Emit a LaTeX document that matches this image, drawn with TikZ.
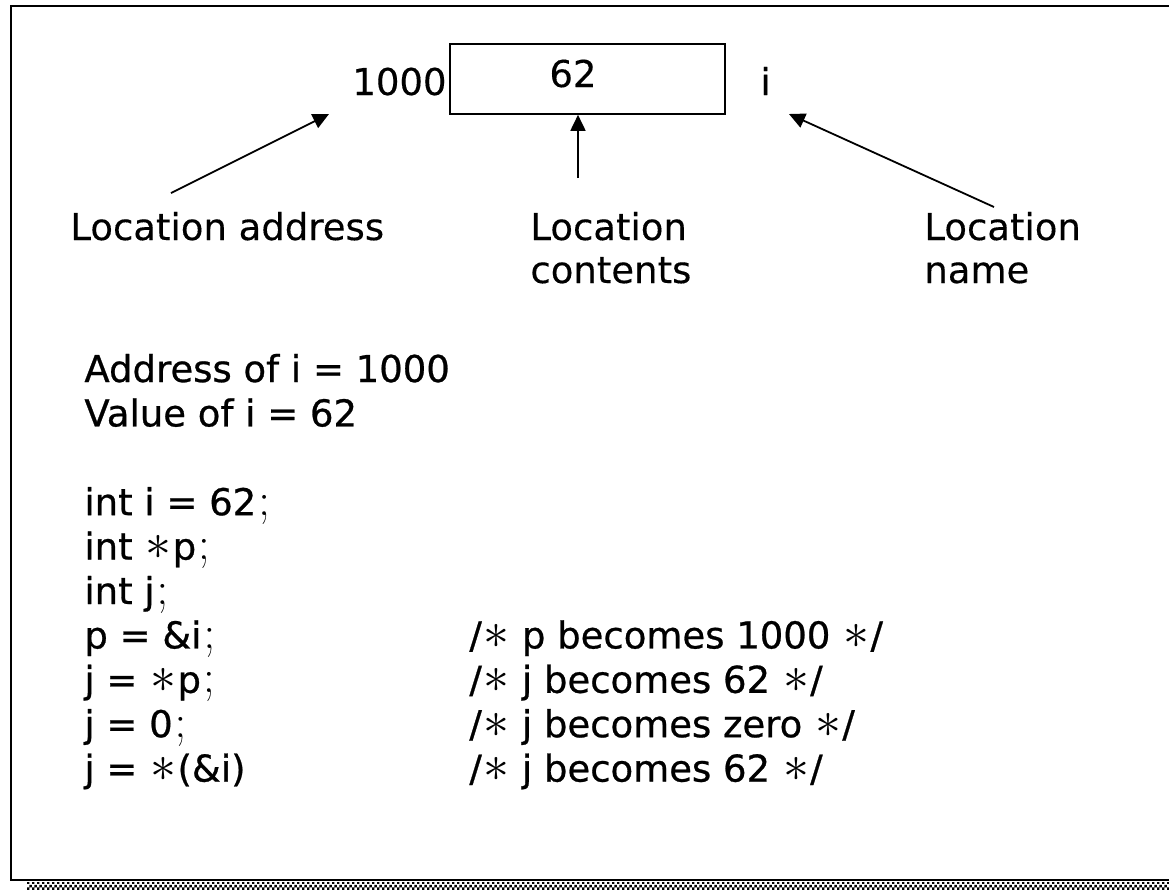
\documentclass[tikz,border=0pt]{standalone}
\usepackage{fontspec}
\setmainfont{DejaVu Sans}[FakeBold=0.3]
\newfontfamily\codefont{DejaVu Sans}[FakeBold=0.7]
\usetikzlibrary{arrows.meta,patterns}
\pgfdeclarepatternformonly{shadowchecks}{\pgfpointorigin}{\pgfqpoint{2.7pt}{2.7pt}}{\pgfqpoint{2.7pt}{2.7pt}}{%
  \pgfpathrectangle{\pgfpointorigin}{\pgfqpoint{1.35pt}{1.35pt}}%
  \pgfpathrectangle{\pgfqpoint{1.35pt}{1.35pt}}{\pgfqpoint{1.35pt}{1.35pt}}%
  \pgfusepath{fill}}
\newcommand{\cstar}{\kern0.6pt\scalebox{1.5}{$\ast$}\kern0.6pt}
\newcommand{\csemi}{\kern1pt\scalebox{1.35}{$;$}}
\tikzset{
  ptr/.style={-{Triangle[length=8pt,width=7.5pt]},line width=0.9pt},
  txt/.style={inner sep=0pt,anchor=base west,font=\fontsize{18.5}{21.5}\selectfont},
  codetxt/.style={txt,font=\fontsize{18.5}{21.5}\selectfont\codefont},
}
\begin{document}
\begin{tikzpicture}[x=0.5pt,y=-0.5pt]
      \useasboundingbox (0,0) rectangle (1169,890);
      % frame and its shadow
      \fill[pattern=shadowchecks] (27,882) rectangle (1169,890);
      \draw[line width=1.1pt] (1180,6) -- (11,6) -- (11,880) -- (1180,880);
      % the memory location
      \node[draw,line width=0.8pt,minimum width=137.5pt,minimum height=35pt,inner sep=0pt] (cell) at (587.5,79) {};
      \node[txt,anchor=base] (val) at (573,87) {62};
      \node[txt] (addr) at (352,95) {1000};
      \node[txt] (name) at (760,95) {i};
      \node[txt] (lbladdr) at (70,240) {Location address};
      \node[txt,align=left] (lblcont) at (530,283) {Location\\contents};
      \node[txt,align=left] (lblname) at (924,283) {Location\\name};
      \coordinate (addrtail) at (171,193);
      \coordinate (addrtip) at (329,114);
      \coordinate (conttail) at (578,178);
      \coordinate (nametail) at (994,207);
      \coordinate (nametip) at (789,114);
      \draw[ptr] (addrtail) -- (addrtip);
      \draw[ptr] (conttail) -- (conttail |- cell.south);
      \draw[ptr] (nametail) -- (nametip);
      % code lines
      \foreach \k/\code in {0/{Address of i = 1000},1/{Value of i = 62},3/{int i = 62\csemi},4/{int \cstar p\csemi},5/{int j\csemi},6/{p = \&i\csemi},7/{j = \cstar p\csemi},8/{j = 0\csemi},9/{j = \cstar(\&i)}}
        \node[codetxt] (code\k) at (84,{382+44.4*\k}) {\code};
      \foreach \k/\note in {6/{/\cstar{} p becomes 1000 \cstar/},7/{/\cstar{} j becomes 62 \cstar/},8/{/\cstar{} j becomes zero \cstar/},9/{/\cstar{} j becomes 62 \cstar/}}
        \node[codetxt] (note\k) at (469,{382+44.4*\k}) {\note};
    \end{tikzpicture}
\end{document}
